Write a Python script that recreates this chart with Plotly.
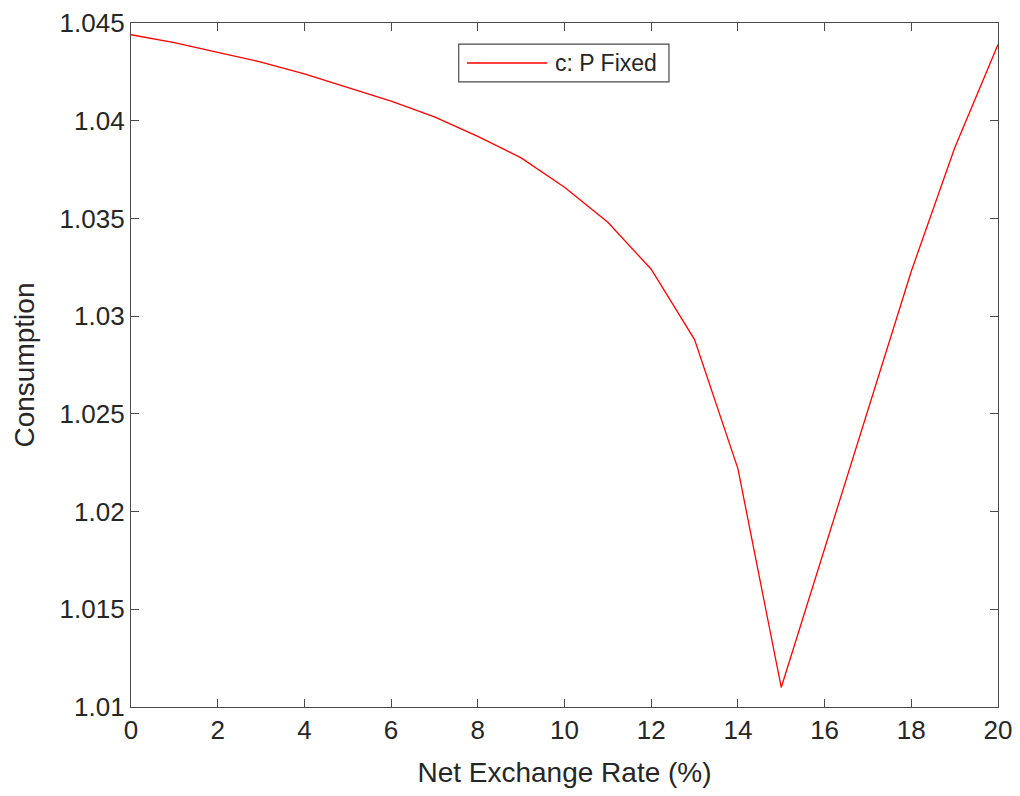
import plotly.graph_objects as go

# Net exchange rate (%) and consumption under fixed P
rate = list(range(0, 21))
consumption = [
    1.0444, 1.0440, 1.0435, 1.0430, 1.0424, 1.0417, 1.0410, 1.0402,
    1.0392, 1.0381, 1.0366, 1.0348, 1.0324, 1.0288, 1.0222, 1.0110,
    1.0181, 1.0252, 1.0323, 1.0386, 1.0439,
]
series_name = "c: P Fixed"

x_ticks = list(range(0, 21, 2))
y_ticks = [1.01, 1.015, 1.02, 1.025, 1.03, 1.035, 1.04, 1.045]
y_tick_labels = ["1.01", "1.015", "1.02", "1.025", "1.03", "1.035", "1.04", "1.045"]

font_family = "Liberation Sans, Arial, sans-serif"
axis_color = "#4a4a4a"
text_color = "#262626"
line_color = "#ff0000"

fig = go.Figure()
fig.add_trace(go.Scatter(
    x=rate, y=consumption, mode="lines", name=series_name,
    line=dict(color=line_color, width=1.3), showlegend=False,
))

common_axis = dict(
    showline=True, linecolor=axis_color, linewidth=1.3, mirror="ticks",
    ticks="inside", ticklen=8, tickwidth=1.3, tickcolor=axis_color,
    showgrid=False, zeroline=False, automargin=False,
    tickfont=dict(family=font_family, size=26, color=text_color),
)

# Boxed legend drawn in paper coordinates, with a long line sample
box_x0, box_x1, box_y0, box_y1 = 0.378, 0.6205, 0.914, 0.969
sample_x0, sample_x1, sample_y = 0.3875, 0.480, 0.9415
fig.add_shape(type="rect", xref="paper", yref="paper",
              x0=box_x0, x1=box_x1, y0=box_y0, y1=box_y1,
              line=dict(color=axis_color, width=1.2), fillcolor="white", layer="above")
fig.add_shape(type="line", xref="paper", yref="paper",
              x0=sample_x0, x1=sample_x1, y0=sample_y, y1=sample_y,
              line=dict(color=line_color, width=1.3), layer="above")
fig.add_annotation(xref="paper", yref="paper", x=0.4867, y=sample_y,
                   xanchor="left", yanchor="middle", showarrow=False,
                   text=series_name,
                   font=dict(family=font_family, size=23, color=text_color))

fig.update_layout(
    width=1020, height=796,
    margin=dict(l=131, r=22, t=23, b=89),
    paper_bgcolor="white", plot_bgcolor="white",
    font=dict(family=font_family, color=text_color),
    xaxis=dict(
        range=[0, 20], tickvals=x_ticks,
        title=dict(text="Net Exchange Rate (%)", font=dict(size=28, color=text_color), standoff=18),
        **common_axis,
    ),
    yaxis=dict(
        range=[1.01, 1.045], tickvals=y_ticks, ticktext=y_tick_labels,
        title=dict(text="Consumption", font=dict(size=28, color=text_color), standoff=16),
        **common_axis,
    ),
    showlegend=False,
)

fig.write_html("out.html")
